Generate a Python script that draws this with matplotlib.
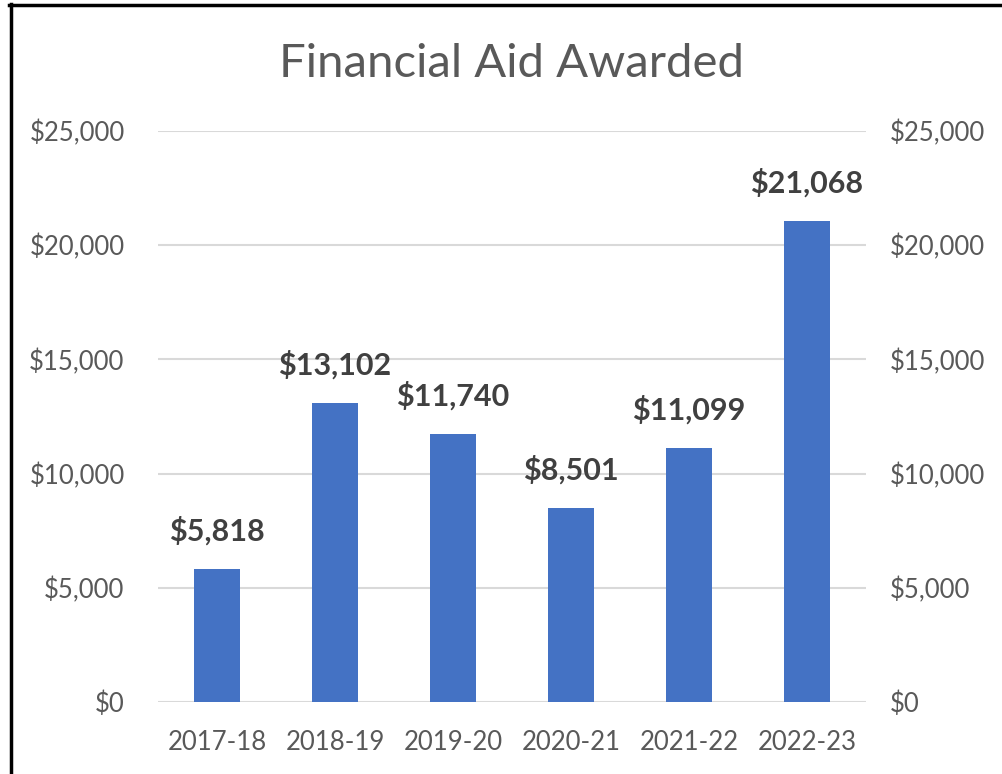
import matplotlib.pyplot as plt
from matplotlib.ticker import FuncFormatter

years = ["2017-18", "2018-19", "2019-20", "2020-21", "2021-22", "2022-23"]
aid = [5818, 13102, 11740, 8501, 11099, 21068]
yticks = [0, 5000, 10000, 15000, 20000, 25000]

plt.rcParams["font.family"] = ["Lato", "DejaVu Sans"]

fig = plt.figure(figsize=(10.03, 7.74), dpi=100)
W, H = 1003, 774
ax = fig.add_axes([158 / W, 1 - 702 / H, 708 / W, 571 / H])

x = range(len(years))
ax.bar(x, aid, width=0.39, color="#4472C4", zorder=3)
ax.set_xlim(-0.5, len(years) - 0.5)
ax.set_ylim(0, 25000)

fmt = FuncFormatter(lambda v, p: f"${v:,.0f}")
ax.set_yticks(yticks)
ax.yaxis.set_major_formatter(fmt)
ax.set_xticks(list(x))
ax.set_xticklabels(years)
ax.tick_params(axis="both", length=0, labelsize=18.5, labelcolor="#595959")
ax.tick_params(axis="y", pad=24)
ax.tick_params(axis="x", pad=20)
ax.grid(axis="y", color="#D9D9D9", linewidth=1.5, zorder=0)
for s in ax.spines.values():
    s.set_visible(False)

ax2 = ax.twinx()
ax2.set_ylim(0, 25000)
ax2.set_yticks(yticks)
ax2.yaxis.set_major_formatter(fmt)
ax2.tick_params(axis="y", length=0, labelsize=18.5, labelcolor="#595959", pad=17)
for s in ax2.spines.values():
    s.set_visible(False)

for i, v in enumerate(aid):
    ax.annotate(f"${v:,}", (i, v), xytext=(0, 17), textcoords="offset points",
                ha="center", va="bottom", fontsize=22, fontweight="bold",
                color="#404040")

fig.text(512 / W, 1 - 64 / H, "Financial Aid Awarded", ha="center", va="center",
         fontsize=34, color="#595959")

# frame lines of the screenshot (left and top only)
fig.add_artist(plt.Line2D([10.5 / W, 10.5 / W], [0, 1 - 4 / H], color="black", linewidth=2.5))
fig.add_artist(plt.Line2D([9 / W, 1], [1 - 4.5 / H, 1 - 4.5 / H], color="black", linewidth=2.5))

fig.savefig("out.png", dpi=100)
